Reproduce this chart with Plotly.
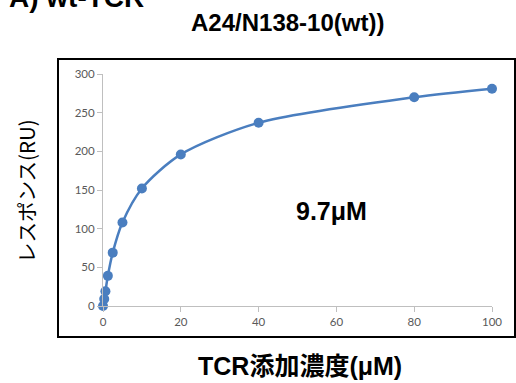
import plotly.graph_objects as go

# TCR concentration (μM) and SPR response (RU)
concentration = [0, 0.3125, 0.625, 1.25, 2.5, 5, 10, 20, 40, 80, 100]
response = [0, 9, 19, 39, 69, 108, 152, 196, 237, 270, 281]

x_ticks = [0, 20, 40, 60, 80, 100]
y_ticks = [0, 50, 100, 150, 200, 250, 300]

panel_label = "A) wt-TCR"
chart_title = "A24/N138-10(wt))"
kd_label = "9.7μM"
x_title = "TCR添加濃度(μM)"
y_title = "レスポンス(RU)"

W, H = 516, 383
L, R, T, B = 103, 24, 74, 77
pw, ph = W - L - R, H - T - B


def px_to_paper(px, py):
    return (px - L) / pw, (H - B - py) / ph


blue = "#4a7ebf"
axis_gray = "#bfbfbf"
tick_gray = "#595959"
latin = "Liberation Sans, Arial, Noto Sans CJK JP"

fig = go.Figure()
fig.add_trace(go.Scatter(
    x=concentration, y=response,
    mode="lines+markers",
    line=dict(color=blue, width=2.5, shape="spline", smoothing=0.8),
    marker=dict(color=blue, size=10),
    cliponaxis=False,
    showlegend=False,
))

tick_font = dict(family="Lato, Liberation Sans", size=11.5, color=tick_gray)
fig.update_xaxes(
    range=[0, 100], tickvals=x_ticks, ticktext=[str(v) for v in x_ticks],
    showgrid=False, zeroline=False, showline=True, linecolor=axis_gray, linewidth=1,
    ticks="outside", ticklen=5, tickcolor=axis_gray, tickwidth=1, tickfont=tick_font,
)
fig.update_yaxes(
    range=[0, 300], tickvals=y_ticks, ticktext=[str(v) for v in y_ticks],
    showgrid=False, zeroline=False, showline=True, linecolor=axis_gray, linewidth=1,
    ticks="outside", ticklen=5, tickcolor=axis_gray, tickwidth=1, tickfont=tick_font,
)

# Outer frame around the chart area
x0, y0 = px_to_paper(58, 337)
x1, y1 = px_to_paper(515, 59)
fig.add_shape(type="rect", xref="paper", yref="paper", x0=x0, y0=y0, x1=x1, y1=y1,
              line=dict(color="black", width=2), fillcolor="rgba(0,0,0,0)", layer="below")


def label(text, px, py, size, family=latin, xanchor="center", angle=0):
    ax, ay = px_to_paper(px, py)
    return dict(text=text, x=ax, y=ay, xref="paper", yref="paper",
                xanchor=xanchor, yanchor="middle", textangle=angle, showarrow=False,
                font=dict(family=family, size=size, color="black"))


annotations = [
    label(f"<b>{chart_title}</b>", 287, 22, 24),
    label(f"<b>{panel_label}</b>", 146, -3, 28, xanchor="right"),
    label(f"<b>{kd_label}</b>", 331, 211, 25),
    label(f"<b>{x_title}</b>", 300, 366, 25),
    label(y_title, 26, 191, 20.5, family="Noto Sans CJK JP", angle=-90),
]

fig.update_layout(
    width=W, height=H,
    margin=dict(l=L, r=R, t=T, b=B),
    paper_bgcolor="white", plot_bgcolor="white",
    annotations=annotations,
)

fig.write_html("out.html")
